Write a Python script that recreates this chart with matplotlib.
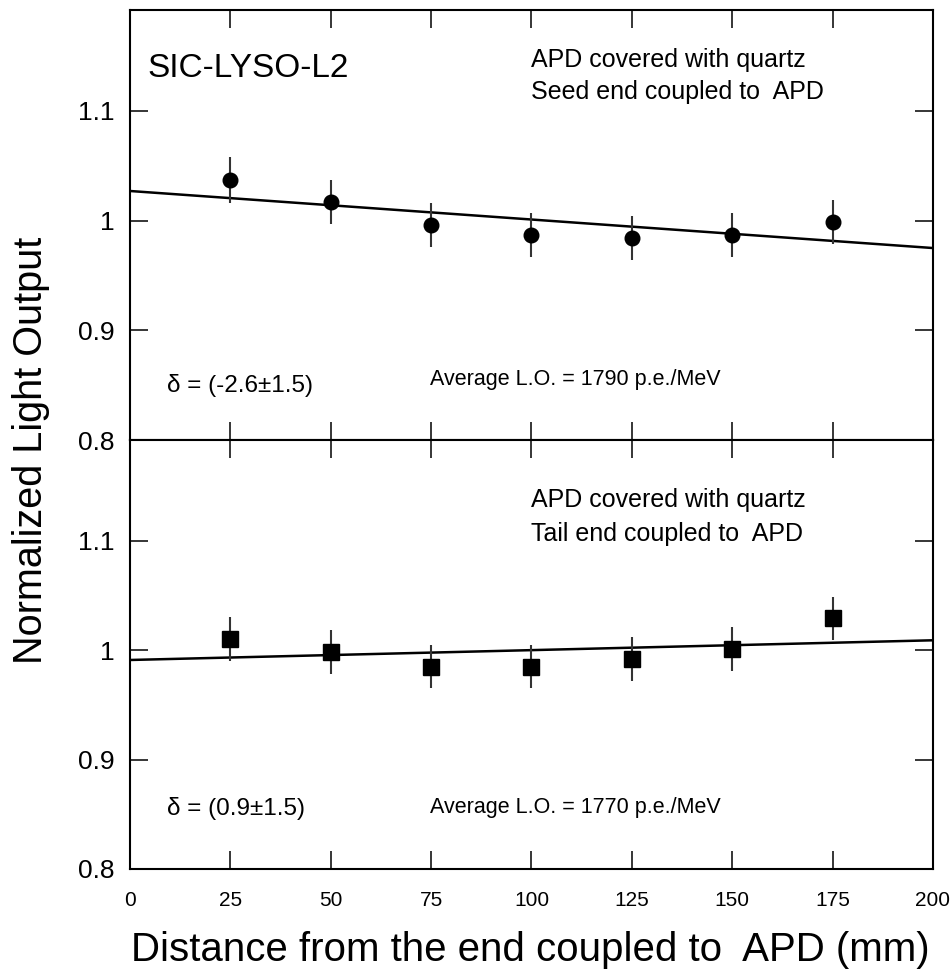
import matplotlib
matplotlib.use("Agg")
import matplotlib.pyplot as plt

plt.rcParams['font.family'] = ['Liberation Sans', 'DejaVu Sans']

# distance along crystal (mm)
distance = [25, 50, 75, 100, 125, 150, 175]

# seed end coupled to APD
seed_lo = [1.037, 1.017, 0.996, 0.987, 0.984, 0.987, 0.999]
seed_err = [0.021, 0.020, 0.020, 0.020, 0.020, 0.020, 0.020]
seed_fit_x = [0, 200]
seed_fit_y = [1.027, 0.975]

# tail end coupled to APD
tail_lo = [1.010, 0.998, 0.985, 0.985, 0.992, 1.001, 1.029]
tail_err = [0.020, 0.020, 0.020, 0.020, 0.020, 0.020, 0.020]
tail_fit_x = [0, 200]
tail_fit_y = [0.991, 1.009]

xticks = [0, 25, 50, 75, 100, 125, 150, 175, 200]
yticks = [0.8, 0.9, 1.0, 1.1]
ylabels = ["0.8", "0.9", "1", "1.1"]

fig = plt.figure(figsize=(9.53, 9.69), dpi=100)
ax1 = fig.add_axes([0.1364, 0.5459, 0.8426, 0.4438])
ax2 = fig.add_axes([0.1364, 0.1032, 0.8426, 0.4427], sharex=ax1)

# (axes, data, err, fit, marker, size, label line 2, delta, average, text y-positions)
panels = [
    (ax1, seed_lo, seed_err, seed_fit_x, seed_fit_y, 'o', 10.5,
     "Seed end coupled to  APD", "\u03b4 = (-2.6\u00b11.5)", "Average L.O. = 1790 p.e./MeV",
     (0.867, 0.793, 0.112, 0.128)),
    (ax2, tail_lo, tail_err, tail_fit_x, tail_fit_y, 's', 11.5,
     "Tail end coupled to  APD", "\u03b4 = (0.9\u00b11.5)", "Average L.O. = 1770 p.e./MeV",
     (0.844, 0.765, 0.126, 0.130)),
]

for ax, lo, err, fx, fy, mk, ms, line2, delta, avg, ty in panels:
    ax.plot(fx, fy, color='black', lw=1.8, zorder=2)
    ax.errorbar(distance, lo, yerr=err, fmt=mk, color='black', ms=ms,
                ecolor='#333333', elinewidth=1.5, capsize=0, zorder=3)
    ax.set_xlim(0, 200)
    ax.set_ylim(0.8, 1.192)
    ax.set_xticks(xticks)
    ax.set_yticks(yticks)
    ax.set_yticklabels(ylabels)
    ax.tick_params(direction='in', length=13, width=1.1, top=True, right=True,
                   colors='black')
    ax.tick_params(axis='y', labelsize=19, pad=11)
    ax.tick_params(axis='x', labelsize=15, pad=16)
    for s in ax.spines.values():
        s.set_linewidth(1.5)
    ax.text(0.4994, ty[0], "APD covered with quartz", transform=ax.transAxes,
            fontsize=18, va='baseline', ha='left')
    ax.text(0.4994, ty[1], line2, transform=ax.transAxes,
            fontsize=18, va='baseline', ha='left')
    ax.text(0.046, ty[2], delta, transform=ax.transAxes, fontsize=17.5,
            va='baseline', ha='left')
    ax.text(0.374, ty[3], avg, transform=ax.transAxes, fontsize=15.5,
            va='baseline', ha='left')

ax1.tick_params(axis='x', labelbottom=False)
ax1.text(0.022, 0.844, "SIC-LYSO-L2", transform=ax1.transAxes, fontsize=24,
         va='baseline', ha='left')

fig.text(0.033, 0.5356, "Normalized Light Output", rotation=90, fontsize=28.5,
         va='center', ha='center')
fig.text(0.556, 0.008, "Distance from the end coupled to  APD (mm)", fontsize=29,
         va='baseline', ha='center')

fig.savefig("out.png", dpi=100)
